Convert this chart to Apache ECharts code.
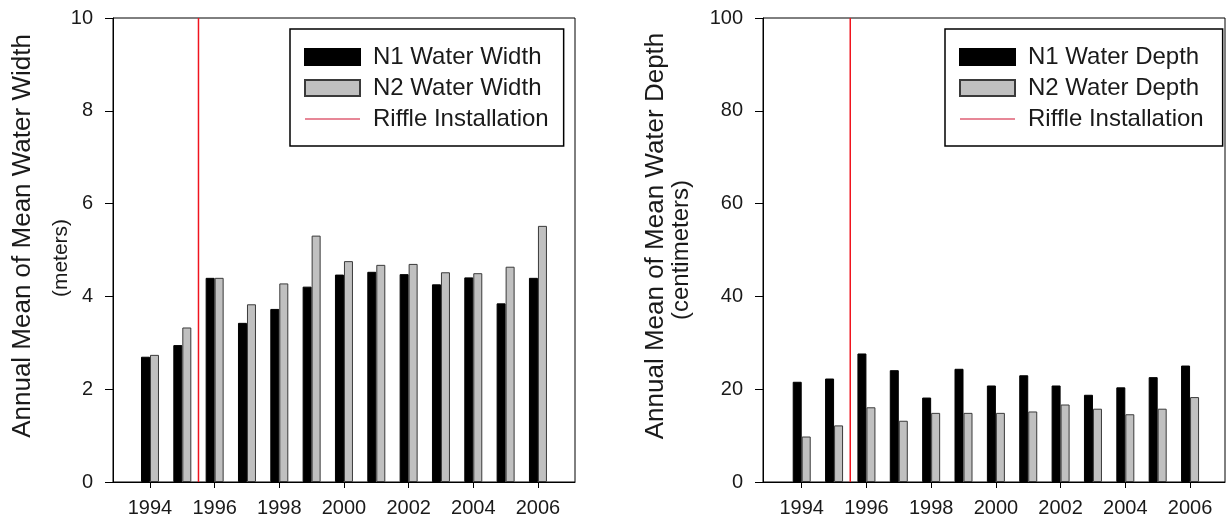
<!DOCTYPE html>
<html><head><meta charset="utf-8">
<script src="https://cdn.jsdelivr.net/npm/echarts@6.0.0/dist/echarts.min.js"></script>
<style>html,body{margin:0;padding:0;background:#fff}#c{width:1231px;height:525px}</style>
</head><body><div id="c"></div>
<script>
const years = [1994,1995,1996,1997,1998,1999,2000,2001,2002,2003,2004,2005,2006];
const tickYears = [1994,1996,1998,2000,2002,2004,2006];
const n1Width = [2.70,2.95,4.40,3.43,3.73,4.21,4.47,4.53,4.48,4.26,4.41,3.85,4.40];
const n2Width = [2.74,3.33,4.40,3.83,4.28,5.31,4.76,4.68,4.70,4.52,4.50,4.64,5.52];
const n1Depth = [21.6,22.3,27.7,24.1,18.2,24.4,20.8,23.0,20.8,18.8,20.4,22.6,25.1];
const n2Depth = [9.8,12.2,16.1,13.2,14.9,14.9,14.9,15.2,16.7,15.8,14.6,15.8,18.3];
const riffleYear = 1995.5;
const widthTitle = ['Annual Mean of Mean Water Width', '(meters)'];
const depthTitle = ['Annual Mean of Mean Water Depth', '(centimeters)'];

const FONT = 'Liberation Sans, Arial, sans-serif';
const TXT = '#1a1a1a';
const RED = '#f0141e';
const pairs = arr => years.map((y, i) => [y, arr[i]]);

function xAxis(gi, min, max) {
  return {
    type: 'value', gridIndex: gi, min: min, max: max,
    axisLine: { show: true, onZero: false, lineStyle: { color: '#000', width: 1 } },
    axisTick: { show: true, customValues: tickYears, length: 6, lineStyle: { color: '#000' } },
    axisLabel: { customValues: tickYears, margin: 16, fontSize: 20, fontFamily: FONT, color: TXT,
      formatter: v => String(Math.round(v)) },
    splitLine: { show: false }
  };
}
function yAxis(gi, max, interval) {
  return {
    type: 'value', gridIndex: gi, min: 0, max: max, interval: interval,
    axisLine: { show: true, lineStyle: { color: '#000', width: 1 } },
    axisTick: { show: true, length: 8, lineStyle: { color: '#000' } },
    axisLabel: { margin: 20, fontSize: 20, fontFamily: FONT, color: TXT },
    splitLine: { show: false }
  };
}
function barSeries(name, gi, data, fill, border) {
  return {
    type: 'bar', name: name, xAxisIndex: gi, yAxisIndex: gi, data: pairs(data),
    barWidth: 9, barGap: '0%',
    itemStyle: { color: fill, borderColor: border, borderWidth: 1 },
    emphasis: { disabled: true }
  };
}
function riffle(gi, top) {
  return {
    type: 'line', name: 'Riffle Installation', xAxisIndex: gi, yAxisIndex: gi,
    data: [[riffleYear, 0], [riffleYear, top]], symbol: 'circle', showSymbol: false, z: 5,
    lineStyle: { color: RED, width: 1.5 }, itemStyle: { color: RED },
    emphasis: { disabled: true }
  };
}
function legend(left, names, padRight) {
  return {
    data: [
      { name: names[0], icon: 'rect' },
      { name: names[1], icon: 'rect' },
      { name: names[2], itemStyle: { color: 'rgba(0,0,0,0)', borderColor: 'rgba(0,0,0,0)', borderWidth: 0, opacity: 0 },
        lineStyle: { color: '#d01030', width: 1.2 } }
    ],
    orient: 'vertical', left: left, top: 29,
    itemWidth: 55, itemHeight: 16, itemGap: 7,
    padding: [16, padRight, 15, 14],
    backgroundColor: '#fff', borderColor: '#000', borderWidth: 1.5,
    selectedMode: false,
    textStyle: { fontFamily: FONT, fontSize: 24, lineHeight: 24, color: TXT, padding: [0, 0, 0, 8] }
  };
}
function title(x, y, text, size) {
  return {
    type: 'text', x: x, y: y, rotation: Math.PI / 2,
    style: { text: text, fontFamily: FONT, fontSize: size, fill: TXT, align: 'center', verticalAlign: 'middle' }
  };
}

const chart = echarts.init(document.getElementById('c'), null, { renderer: 'canvas' });
chart.setOption({
  animation: false,
  backgroundColor: '#fff',
  grid: [
    { left: 113, top: 18, width: 462, height: 464, show: true, borderColor: '#000', borderWidth: 1, backgroundColor: 'transparent' },
    { left: 763, top: 18, width: 462, height: 464, show: true, borderColor: '#000', borderWidth: 1, backgroundColor: 'transparent' }
  ],
  xAxis: [xAxis(0, 1992.856, 2007.146), xAxis(1, 1992.804, 2007.08)],
  yAxis: [yAxis(0, 10, 2), yAxis(1, 100, 20)],
  legend: [
    legend(290, ['N1 Water Width', 'N2 Water Width', 'Riffle Installation'], 15),
    legend(945, ['N1 Water Depth', 'N2 Water Depth', 'Riffle Installation'], 19)
  ],
  series: [
    barSeries('N1 Water Width', 0, n1Width, '#000', '#000'),
    barSeries('N2 Water Width', 0, n2Width, '#c0c0c0', '#3a3a3a'),
    riffle(0, 10),
    barSeries('N1 Water Depth', 1, n1Depth, '#000', '#000'),
    barSeries('N2 Water Depth', 1, n2Depth, '#c0c0c0', '#3a3a3a'),
    riffle(1, 100)
  ],
  graphic: [
    title(23, 236, widthTitle[0], 26),
    title(61, 258, widthTitle[1], 21),
    title(656, 236, depthTitle[0], 26),
    title(681, 250, depthTitle[1], 24)
  ]
});
</script></body></html>
